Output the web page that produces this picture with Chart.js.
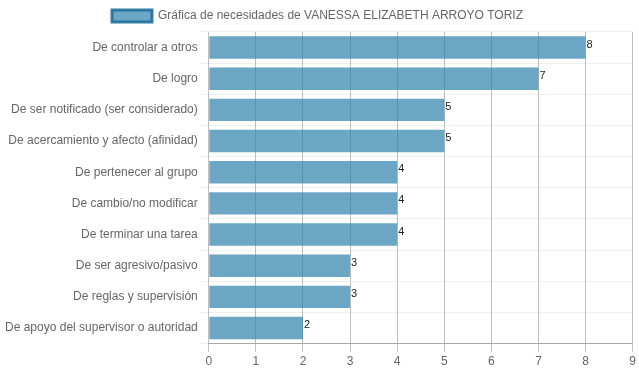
<html>
<head>
<meta charset="utf-8">
<style>
  body { margin: 0; background: #fff; }
  #wrap { width: 639px; height: 372px; }
</style>
<script src="https://cdn.jsdelivr.net/npm/chart.js"></script>
</head>
<body>
<div id="wrap"><canvas id="chart" width="639" height="372"></canvas></div>
<script>
var seriesName = 'Gráfica de necesidades de VANESSA ELIZABETH ARROYO TORIZ';
var categories = [
  'De controlar a otros',
  'De logro',
  'De ser notificado (ser considerado)',
  'De acercamiento y afecto (afinidad)',
  'De pertenecer al grupo',
  'De cambio/no modificar',
  'De terminar una tarea',
  'De ser agresivo/pasivo',
  'De reglas y supervisión',
  'De apoyo del supervisor o autoridad'
];
var values = [8, 7, 5, 5, 4, 4, 4, 3, 3, 2];

// writes the value next to the end of each bar
var valueLabels = {
  id: 'valueLabels',
  afterDatasetsDraw: function(chart) {
    var ctx = chart.ctx;
    var meta = chart.getDatasetMeta(0);
    ctx.save();
    ctx.font = '11px "Liberation Sans", Arial, sans-serif';
    ctx.fillStyle = '#222';
    ctx.textAlign = 'left';
    ctx.textBaseline = 'middle';
    meta.data.forEach(function(bar, i) {
      ctx.fillText(values[i], bar.x + 1, bar.y - 3);
    });
    ctx.restore();
  }
};

Chart.defaults.font.family = '"Liberation Sans", Arial, sans-serif';
Chart.defaults.font.size = 12;
Chart.defaults.color = '#666';

var ctx = document.getElementById('chart').getContext('2d');
var myChart = new Chart(ctx, {
  type: 'bar',
  data: {
    labels: categories,
    datasets: [{
      label: seriesName,
      data: values,
      backgroundColor: 'rgba(44,129,172,0.7)',
      borderWidth: 0
    }]
  },
  options: {
    indexAxis: 'y',
    responsive: false,
    animation: false,
    layout: { padding: { left: 2, right: 6, top: 0, bottom: 0 } },
    plugins: {
      legend: {
        labels: {
          boxWidth: 40,
          boxHeight: 12,
          generateLabels: function(chart) {
            return [{
              text: seriesName,
              fillStyle: 'rgba(44,129,172,0.7)',
              strokeStyle: 'rgba(32,110,155,0.9)',
              lineWidth: 3,
              datasetIndex: 0,
              fontColor: '#666'
            }];
          }
        }
      },
      tooltip: { enabled: false }
    },
    scales: {
      x: {
        min: 0,
        max: 9,
        ticks: { stepSize: 1 },
        grid: { color: 'rgba(0,0,0,0.25)' },
        border: { color: 'rgba(0,0,0,0.3)' }
      },
      y: {
        grid: { color: 'rgba(0,0,0,0.06)' },
        border: { display: false }
      }
    }
  },
  plugins: [valueLabels]
});
</script>
</body>
</html>
